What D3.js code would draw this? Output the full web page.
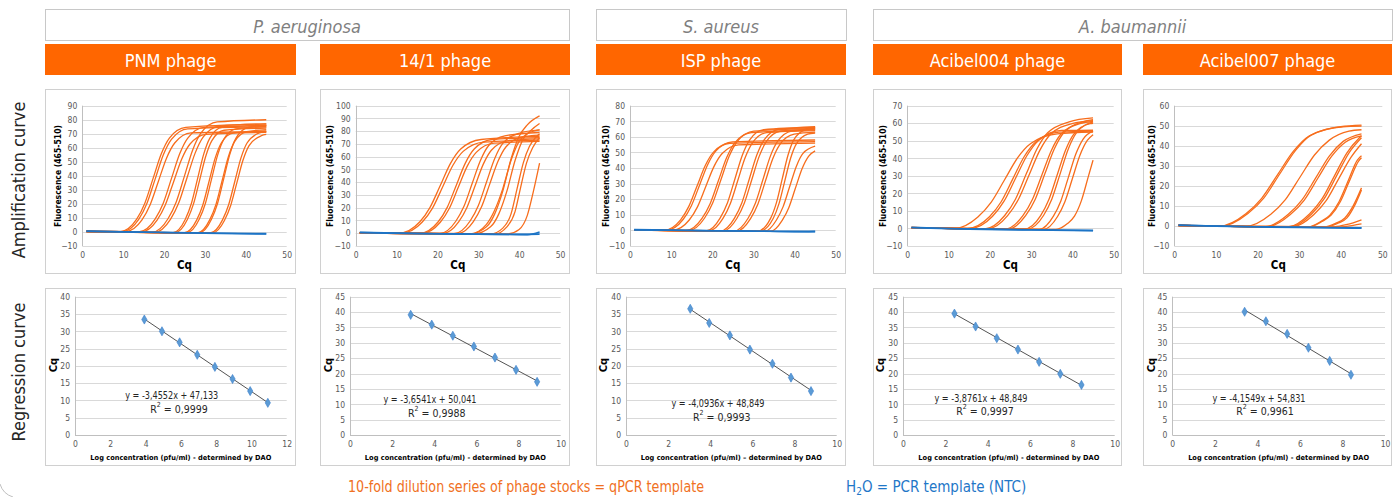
<!DOCTYPE html>
<html><head><meta charset="utf-8">
<script src="https://cdn.jsdelivr.net/npm/d3@7"></script>
<style>
body{margin:0;background:#fff;}
svg{display:block;}
text{font-family:"Liberation Sans Narrow","DejaVu Sans Condensed","Roboto",sans-serif;}
</style></head><body>
<svg id="c" width="1399" height="497"></svg>
<script>
// ---------------- DATA ----------------
const species = ["P. aeruginosa", "S. aureus", "A. baumannii"];
const phages = ["PNM phage", "14/1 phage", "ISP phage", "Acibel004 phage", "Acibel007 phage"];
const rowLabels = ["Amplification curve", "Regression curve"];
const footOrange = "10-fold dilution series of phage stocks = qPCR template";
const ampXTicks = [0, 10, 20, 30, 40, 50];
const ampYTicks = [
  [-10, 0, 10, 20, 30, 40, 50, 60, 70, 80, 90],
  [-10, 0, 10, 20, 30, 40, 50, 60, 70, 80, 90, 100],
  [-10, 0, 10, 20, 30, 40, 50, 60, 70, 80],
  [-10, 0, 10, 20, 30, 40, 50, 60, 70],
  [-10, 0, 10, 20, 30, 40, 50, 60]
];
const ampYTitle = "Fluorescence (465-510)";
const ampXTitle = "Cq";

// amplification curves: [Cq, fluorescence] points
const ampPNM = [
 [[1,0.5],[9.3,0.3],[13.3,9.1],[15.3,20.5],[17.3,38],[19.3,55.5],[21.3,66.9],[25.3,74.5],[45,77]],
 [[1,0.5],[9.8,0.3],[13.8,9],[15.8,20.3],[17.8,37.5],[19.8,54.8],[21.8,66],[25.8,73.5],[45,75]],
 [[1,0.5],[10.6,0.3],[14.6,8.6],[16.6,19.4],[18.6,36],[20.6,52.6],[22.6,63.4],[26.6,70.6],[45,71.5]],
 [[1,0.4],[13.8,0],[17.8,9.1],[19.8,20.5],[21.8,38],[23.8,55.5],[25.8,66.9],[29.8,74.5],[45,76]],
 [[1,0.4],[14.3,0],[18.3,8.5],[20.3,19.2],[22.3,35.5],[24.3,51.8],[26.3,62.5],[30.3,69.6],[45,71]],
 [[1,0.4],[17,-0.3],[21,9.6],[23,21.6],[25,40],[27,58.4],[29,70.4],[33,78.4],[45,80]],
 [[1,0.4],[17.6,-0.3],[21.6,9.2],[23.6,20.8],[25.6,38.5],[27.6,56.2],[29.6,67.8],[33.6,75.5],[45,77]],
 [[1,0.4],[22.2,-0.4],[25.2,9.1],[26.7,20.5],[28.2,38],[29.7,55.5],[31.2,66.9],[34.2,74.5],[45,76]],
 [[1,0.4],[22.7,-0.4],[25.7,8.9],[27.2,20],[28.7,37],[30.2,54],[31.7,65.1],[34.7,72.5],[45,74]],
 [[1,0.3],[25,-0.5],[28,8.6],[29.5,19.4],[31,36],[32.5,52.6],[34,63.4],[37,70.6],[45,72]],
 [[1,0.3],[25.6,-0.5],[28.6,9],[30.1,20.3],[31.6,37.5],[33.1,54.8],[34.6,66],[37.6,73.5],[45,75]],
 [[1,0.3],[28.2,-0.6],[31.2,8.8],[32.7,19.7],[34.2,36.5],[35.7,53.3],[37.2,64.2],[40.2,71.5],[45,73]],
 [[1,0.3],[28.6,-0.6],[31.6,9.1],[33.1,20.5],[34.6,38],[36.1,55.5],[37.6,66.9],[40.6,74.5],[45,76]],
 [[1,0.3],[31.3,-0.7],[34.3,8.6],[35.8,19.4],[37.3,36],[38.8,52.6],[40.3,63.4],[43.3,70.6],[45,71.5]],
 [[1,0.3],[31.8,-0.7],[34.8,8.4],[36.3,18.9],[37.8,35],[39.3,51.1],[40.8,61.6],[43.8,68.6],[45,69.5]]
];
const amp141 = [
 [[1,0.5],[10.7,0.2],[15.7,9],[18.2,20.3],[20.7,37.5],[23.2,54.8],[25.7,66],[30.7,73.5],[45,76]],
 [[1,0.5],[11.3,0.2],[16.3,8.8],[18.8,19.7],[21.3,36.5],[23.8,53.3],[26.3,64.2],[31.3,71.5],[45,73]],
 [[1,0.4],[15.6,-0.2],[20.2,9],[22.4,20.3],[24.6,37.5],[26.8,54.8],[29,66],[33.4,73.5],[45,75]],
 [[1,0.4],[16.1,-0.2],[20.7,8.6],[22.9,19.4],[25.1,36],[27.3,52.6],[29.5,63.4],[33.9,70.6],[45,72]],
 [[1,0.4],[20.5,-0.3],[24.5,9.4],[26.5,21.1],[28.5,39],[30.5,56.9],[32.5,68.6],[36.5,76.4],[45,79]],
 [[1,0.4],[21.2,-0.3],[25.2,8.9],[27.2,20],[29.2,37],[31.2,54],[33.2,65.1],[37.2,72.5],[45,74]],
 [[1,0.3],[24,-0.4],[28,9.6],[30,21.6],[32,40],[34,58.4],[36,70.4],[40,78.4],[45,81]],
 [[1,0.3],[24.8,-0.4],[28.8,9.2],[30.8,20.8],[32.8,38.5],[34.8,56.2],[36.8,67.8],[40.8,75.5],[45,77]],
 [[1,0.3],[28,-0.5],[32,5],[34,15],[36,33],[38,58],[40,76],[42,85],[45,92]],
 [[1,0.3],[29,-0.5],[33,5],[35,15],[37,33],[39,57],[41,74],[43,81],[45,86]],
 [[1,0.3],[28,-0.5],[32,7],[34,18],[36,35],[38,57],[40,72],[42,78],[45,81]],
 [[1,0.3],[33,-0.6],[36,4],[38,15],[39.5,35],[41,55],[42.5,68],[44,75],[45,78]],
 [[1,0.3],[34,-0.6],[37,5],[39,17],[40.3,35],[41.8,55],[43.3,67],[45,75]],
 [[1,0.3],[37,-0.6],[40,3],[42,14],[43.5,33],[45,55]]
];
const ampISP = [
 [[1,0.5],[8.3,0.2],[12.3,6.8],[14.3,15.4],[16.3,28.5],[18.3,41.6],[20.3,50.2],[24.3,55.9],[45,57]],
 [[1,0.5],[8.9,0.2],[12.9,7],[14.9,15.7],[16.9,29],[18.9,42.3],[20.9,51],[24.9,56.8],[45,58]],
 [[1,0.5],[10.4,0.2],[14.4,6.7],[16.4,15.1],[18.4,28],[20.4,40.9],[22.4,49.3],[26.4,54.9],[45,56]],
 [[1,0.4],[13.5,-0.2],[17.5,7.7],[19.5,17.3],[21.5,32],[23.5,46.7],[25.5,56.3],[29.5,62.7],[45,64.5]],
 [[1,0.4],[14.1,-0.2],[18.1,7.8],[20.1,17.6],[22.1,32.5],[24.1,47.5],[26.1,57.2],[30.1,63.7],[45,65.5]],
 [[1,0.4],[18.5,-0.3],[21.9,7.9],[23.7,17.8],[25.5,33],[27.3,48.2],[29.1,58.1],[32.5,64.7],[45,66]],
 [[1,0.4],[19.2,-0.3],[22.6,7.7],[24.4,17.3],[26.2,32],[28,46.7],[29.8,56.3],[33.2,62.7],[45,64]],
 [[1,0.3],[22,-0.4],[25.4,7.9],[27.2,17.8],[29,33],[30.8,48.2],[32.6,58.1],[36,64.7],[45,66.5]],
 [[1,0.3],[22.6,-0.4],[26,7.8],[27.8,17.6],[29.6,32.5],[31.4,47.5],[33.2,57.2],[36.6,63.7],[45,65]],
 [[1,0.3],[25.3,-0.4],[28.7,7.8],[30.5,17.6],[32.3,32.5],[34.1,47.5],[35.9,57.2],[39.3,63.7],[45,65]],
 [[1,0.3],[25.9,-0.4],[29.3,7.6],[31.1,17],[32.9,31.5],[34.7,46],[36.5,55.4],[39.9,61.7],[45,63]],
 [[1,0.3],[31,-0.5],[34.2,7.9],[35.6,17.8],[37,33],[38.4,48.2],[39.8,58.1],[42.6,64.7],[45,66]],
 [[1,0.3],[31.6,-0.5],[34.8,7.6],[36.2,17],[37.6,31.5],[39,46],[40.4,55.4],[43.2,61.7],[45,62.5]],
 [[1,0.3],[32.8,-0.5],[35.6,6.7],[37.2,15.1],[38.8,28],[40.4,40.9],[42,49.3],[45,54]],
 [[1,0.3],[34.2,-0.5],[37,6.5],[38.6,14.6],[40.2,27],[41.8,39.4],[43.4,47.5],[45,51]]
];
const ampA004 = [
 [[1,0.6],[11.5,0.1],[17.1,6.6],[20.3,14.9],[23.5,27.5],[26.7,40.2],[29.9,48.4],[36.3,53.9],[45,55]],
 [[1,0.6],[14.5,0],[19.9,6.7],[22.7,15.1],[25.5,28],[28.3,40.9],[31.1,49.3],[36.7,54.9],[45,55.5]],
 [[1,0.6],[15.2,0],[20.6,6.8],[23.4,15.4],[26.2,28.5],[29,41.6],[31.8,50.2],[37.4,55.9],[45,56]],
 [[1,0.5],[18.8,-0.2],[23.6,7.4],[26.2,16.7],[28.8,31],[31.4,45.3],[34,54.6],[39.2,60.8],[45,63]],
 [[1,0.5],[19.5,-0.2],[24.3,7.3],[26.9,16.5],[29.5,30.5],[32.1,44.5],[34.7,53.7],[39.9,59.8],[45,61.5]],
 [[1,0.4],[23.6,-0.3],[28,7.3],[30.3,16.5],[32.6,30.5],[34.9,44.5],[37.2,53.7],[41.8,59.8],[45,61]],
 [[1,0.4],[24.3,-0.3],[28.7,7.4],[31,16.7],[33.3,31],[35.6,45.3],[37.9,54.6],[42.5,60.8],[45,62]],
 [[1,0.4],[28.3,-0.4],[32.3,7.3],[34.3,16.5],[36.3,30.5],[38.3,44.5],[40.3,53.7],[44.3,59.8],[45,60]],
 [[1,0.4],[29,-0.4],[33,7.4],[35,16.7],[37,31],[39,45.3],[41,54.6],[45,60.8]],
 [[1,0.3],[32,-0.5],[35.4,7],[37.2,15.7],[39,29],[40.8,42.3],[42.6,51],[45,55.5]],
 [[1,0.3],[33,-0.5],[36.4,6.8],[38.2,15.4],[40,28.5],[41.8,41.6],[43.6,50.2],[45,53.5]],
 [[1,0.3],[36,-0.5],[38.8,2.8],[40.5,7],[42.2,16],[43.9,30],[45,39]]
];
const ampA007 = [
 [[1,0.4],[10.8,-0.1],[17.2,6.1],[21,13.8],[24.8,25.5],[28.6,37.2],[32.4,44.9],[40,49.5],[45,50.3]],
 [[1,0.4],[11.3,-0.1],[17.7,6.2],[21.5,13.9],[25.3,25.8],[29.1,37.6],[32.9,45.3],[40.5,49.5],[45,49.8]],
 [[1,0.4],[17.2,-0.2],[23.2,5.8],[26.7,13.1],[30.2,24.3],[33.7,35.4],[37.2,42.7],[42,47.3],[45,48]],
 [[1,0.3],[22,-0.3],[27.4,5.8],[30.7,13],[34,24],[37.3,35],[40.6,42.2],[45,46]],
 [[1,0.3],[22.5,-0.3],[27.9,5.7],[31.2,12.8],[34.5,23.8],[37.8,34.7],[41.1,41.8],[45,45]],
 [[1,0.3],[27.5,-0.4],[32.5,6],[35.5,13.5],[38.5,25],[41.5,36.5],[44.5,44],[45,45]],
 [[1,0.3],[28,-0.4],[33,6],[36,13.5],[39,25],[42,36.5],[45,44]],
 [[1,0.3],[28.5,-0.4],[33.5,5.6],[36.5,12.6],[39.5,23.5],[42.5,34.3],[45,41]],
 [[1,0.2],[32,-0.5],[35.2,2.2],[37.4,5.4],[39.6,12.1],[41.8,22.5],[44,32.9],[45,35]],
 [[1,0.2],[32.3,-0.5],[35.5,2.2],[37.7,5.4],[39.9,12.1],[42.1,22.5],[44.3,32.4],[45,34]],
 [[1,0.2],[36,-0.5],[39,1.5],[41,4],[43,10],[45,19]],
 [[1,0.2],[36.5,-0.5],[39.5,1.5],[41.5,4],[43.3,10],[45,18]],
 [[1,0.2],[38,-0.5],[41,0.5],[43,1.5],[45,3]],
 [[1,0.2],[40,-0.5],[43,0.3],[45,1]]
];
// no-template controls (H2O)
const ntcPNM  = [[[1,0.6],[10,0.2],[20,-0.3],[30,-0.7],[45,-1.2]], [[1,0.4],[15,-0.2],[30,-0.9],[45,-1.5]]];
const ntc141  = [[[1,0.8],[10,0.1],[25,-0.5],[40,-0.9],[45,-0.7]], [[1,0.5],[15,-0.3],[30,-0.8],[42,-1.1],[45,1]]];
const ntcISP  = [[[1,0.5],[10,0.2],[20,-0.2],[30,-0.4],[40,-0.8],[45,-0.6]], [[1,0.3],[15,-0.1],[30,-0.5],[45,-0.8]]];
const ntcA004 = [[[1,0.7],[10,0],[20,-0.4],[30,-0.7],[45,-1.1]], [[1,0.4],[15,-0.4],[30,-0.9],[45,-1.3]]];
const ntcA007 = [[[1,0.3],[10,-0.1],[20,-0.4],[30,-0.6],[45,-0.9]], [[1,0.5],[15,-0.3],[30,-0.8],[45,-1.1]]];

// regression
const regLogPNM  = [3.93, 4.93, 5.93, 6.93, 7.93, 8.93, 9.93, 10.93];
const regCqPNM   = [33.4, 30.0, 26.8, 23.2, 19.7, 16.2, 12.7, 9.3];
const regLog141  = [2.88, 3.88, 4.88, 5.88, 6.88, 7.88, 8.88];
const regCq141   = [39.1, 35.9, 32.3, 28.8, 25.2, 21.2, 17.3];
const regLogISP  = [3.05, 3.95, 4.93, 5.88, 6.95, 7.83, 8.78];
const regCqISP   = [36.5, 32.4, 28.8, 24.7, 20.6, 16.6, 12.7];
const regLogA004 = [2.43, 3.43, 4.43, 5.43, 6.43, 7.43, 8.43];
const regCqA004  = [39.5, 35.3, 31.5, 27.8, 23.8, 19.9, 16.3];
const regLogA007 = [3.4, 4.4, 5.4, 6.4, 7.4, 8.4];
const regCqA007  = [40.1, 37.0, 32.9, 28.4, 24.1, 19.6];
const slopes     = [-3.4552, -3.6541, -4.0936, -3.8761, -4.1549];
const intercepts = [47.133, 50.041, 48.849, 48.849, 54.831];
const r2         = ["0,9999", "0,9988", "0,9993", "0,9997", "0,9961"];
const regXTicks  = [[0,2,4,6,8,10,12],[0,2,4,6,8,10],[0,2,4,6,8,10],[0,2,4,6,8,10],[0,2,4,6,8,10]];
const regYTicks  = [
  [0,5,10,15,20,25,30,35,40],
  [0,5,10,15,20,25,30,35,40,45],
  [0,5,10,15,20,25,30,35,40],
  [0,5,10,15,20,25,30,35,40,45],
  [0,5,10,15,20,25,30,35,40,45]
];
const regXTitles = [
  "Log concentration (pfu/ml) - determined by DAO",
  "Log concentration (pfu/ml) - determined by DAO",
  "Log concentration (pfu/ml) \u2013 determined by DAO",
  "Log concentration (pfu/ml) - determined by DAO",
  "Log concentration (pfu/ml) - determined by DAO"
];
const regYTitle = "Cq";

// ---------------- LAYOUT ----------------
const LAY = {
  colX: [[45,296],[320,570],[596,846],[873,1122],[1143,1392]],
  speciesX: [[45,569],[596,846],[873,1392]],
  speciesY: [9.5,40.5], phageY: [44,75],
  ampBoxY: [89,273], regBoxY: [288,465],
  ampPlotX: [[82.3,286.7],[355.7,560],[630,835.7],[907.3,1113.7],[1174.3,1382.3]],
  ampPlotY: [246,105.7],
  regPlotX: [[75,286.7],[350,560.7],[626,836.7],[903,1114.7],[1172.3,1385]],
  regPlotY: [435,296.7],
  ampTitleX: [58.3,330,606,883,1151.7],
  regTitleX: [53.3,328,603,880.7,1151.7],
  eqPos: [[171.7,395],[430,399],[718,403],[981,397.7],[1259,397.7]],
  r2Pos: [[179,408.5],[436.7,413],[721.7,416.5],[985,411],[1265,411]]
};
const COL = {orange:"#f76d1c", blue:"#1c74c6", head:"#ff6600", grid:"#d9d9d9", axis:"#bfbfbf", tick:"#595959", border:"#d0d0d0"};

// ---------------- DRAW ----------------
const svg = d3.select("#c");
svg.append("rect").attr("width",1399).attr("height",497).attr("fill","#fff");

species.forEach((s,i)=>{
  const [x0,x1] = LAY.speciesX[i];
  svg.append("rect").attr("x",x0+0.5).attr("y",LAY.speciesY[0]).attr("width",x1-x0).attr("height",LAY.speciesY[1]-LAY.speciesY[0])
    .attr("fill","#fff").attr("stroke","#c8c8c8").attr("stroke-width",1);
  svg.append("text").attr("x",(x0+x1)/2).attr("y",(LAY.speciesY[0]+LAY.speciesY[1])/2+1)
    .attr("text-anchor","middle").attr("dominant-baseline","central")
    .attr("font-size",18).attr("font-style","italic").attr("fill","#7f7f7f").text(s);
});
phages.forEach((p,i)=>{
  const [x0,x1] = LAY.colX[i];
  svg.append("rect").attr("x",x0).attr("y",LAY.phageY[0]).attr("width",x1-x0).attr("height",LAY.phageY[1]-LAY.phageY[0]).attr("fill",COL.head);
  svg.append("text").attr("x",(x0+x1)/2).attr("y",(LAY.phageY[0]+LAY.phageY[1])/2+1)
    .attr("text-anchor","middle").attr("dominant-baseline","central")
    .attr("font-size",18).attr("fill","#fff").text(p);
});
[[18,180],[18,372]].forEach((p,i)=>{
  svg.append("text").attr("transform",`translate(${p[0]},${p[1]}) rotate(-90)`)
    .attr("text-anchor","middle").attr("dominant-baseline","central")
    .attr("font-size",18).attr("fill","#262626").text(rowLabels[i]);
});

function styleAxis(g){
  g.select(".domain").remove();
  g.selectAll("text").attr("font-size",8.5).attr("fill",COL.tick)
    .style("font-family","'Liberation Sans Narrow','DejaVu Sans Condensed',sans-serif");
}

const ampSets = [[ampPNM,ntcPNM],[amp141,ntc141],[ampISP,ntcISP],[ampA004,ntcA004],[ampA007,ntcA007]];
ampSets.forEach(([curves,ntc],i)=>{
  const [bx0,bx1] = LAY.colX[i];
  svg.append("rect").attr("x",bx0+0.5).attr("y",LAY.ampBoxY[0]+0.5).attr("width",bx1-bx0-1).attr("height",LAY.ampBoxY[1]-LAY.ampBoxY[0])
    .attr("fill","#fff").attr("stroke",COL.border);
  const yt = ampYTicks[i];
  const x = d3.scaleLinear().domain([0,50]).range(LAY.ampPlotX[i]);
  const y = d3.scaleLinear().domain([yt[0], yt[yt.length-1]]).range(LAY.ampPlotY);
  const g = svg.append("g");
  g.selectAll("line.grid").data(yt).join("line")
    .attr("x1",x(0)).attr("x2",x(50)).attr("y1",d=>Math.round(y(d))+0.5).attr("y2",d=>Math.round(y(d))+0.5)
    .attr("stroke",COL.grid).attr("stroke-width",1);
  g.append("line").attr("x1",Math.round(x(0))+0.5).attr("x2",Math.round(x(0))+0.5)
    .attr("y1",y(yt[0])).attr("y2",y(yt[yt.length-1])).attr("stroke",COL.axis);
  g.append("g").attr("transform",`translate(${x(0)},0)`)
    .call(d3.axisLeft(y).tickValues(yt).tickSize(0).tickPadding(5)).call(styleAxis);
  g.append("g").attr("transform",`translate(0,${y(yt[0])})`)
    .call(d3.axisBottom(x).tickValues(ampXTicks).tickSize(0).tickPadding(6)).call(styleAxis);
  const line = d3.line().x(d=>x(d[0])).y(d=>y(d[1])).curve(d3.curveMonotoneX);
  g.selectAll("path.amp").data(curves).join("path").attr("class","amp")
    .attr("d",line).attr("fill","none").attr("stroke",COL.orange).attr("stroke-width",1.3);
  g.selectAll("path.ntc").data(ntc).join("path").attr("class","ntc")
    .attr("d",line).attr("fill","none").attr("stroke",COL.blue).attr("stroke-width",1.6);
  g.append("text").attr("transform",`translate(${LAY.ampTitleX[i]},176) rotate(-90)`)
    .attr("text-anchor","middle").attr("dominant-baseline","central")
    .attr("font-size",9).attr("font-weight","bold").attr("fill","#000")
    .attr("textLength",102).attr("lengthAdjust","spacingAndGlyphs").text(ampYTitle);
  g.append("text").attr("x",(LAY.ampPlotX[i][0]+LAY.ampPlotX[i][1])/2).attr("y",264.5)
    .attr("text-anchor","middle").attr("dominant-baseline","central")
    .attr("font-size",11.5).attr("font-weight","bold").attr("fill","#000").text(ampXTitle);
});

const regSets = [[regLogPNM,regCqPNM],[regLog141,regCq141],[regLogISP,regCqISP],[regLogA004,regCqA004],[regLogA007,regCqA007]];
const fmt = v => String(v).replace(".",",");
regSets.forEach(([xs,ys],i)=>{
  const [bx0,bx1] = LAY.colX[i];
  svg.append("rect").attr("x",bx0+0.5).attr("y",LAY.regBoxY[0]+0.5).attr("width",bx1-bx0-1).attr("height",LAY.regBoxY[1]-LAY.regBoxY[0])
    .attr("fill","#fff").attr("stroke",COL.border);
  const xt = regXTicks[i], yt = regYTicks[i];
  const x = d3.scaleLinear().domain([xt[0], xt[xt.length-1]]).range(LAY.regPlotX[i]);
  const y = d3.scaleLinear().domain([0, yt[yt.length-1]]).range(LAY.regPlotY);
  const g = svg.append("g");
  g.selectAll("line.grid").data(yt).join("line")
    .attr("x1",x(xt[0])).attr("x2",x(xt[xt.length-1])).attr("y1",d=>Math.round(y(d))+0.5).attr("y2",d=>Math.round(y(d))+0.5)
    .attr("stroke",d=>d===0?COL.axis:COL.grid);
  g.append("line").attr("x1",Math.round(x(0))+0.5).attr("x2",Math.round(x(0))+0.5)
    .attr("y1",y(0)).attr("y2",y(yt[yt.length-1])).attr("stroke",COL.axis);
  g.append("g").attr("transform",`translate(${x(0)},0)`)
    .call(d3.axisLeft(y).tickValues(yt).tickSize(0).tickPadding(5)).call(styleAxis);
  g.append("g").attr("transform",`translate(0,${y(0)})`)
    .call(d3.axisBottom(x).tickValues(xt).tickSize(0).tickPadding(6)).call(styleAxis);
  const xa = d3.min(xs), xb = d3.max(xs);
  g.append("line").attr("x1",x(xa)).attr("y1",y(slopes[i]*xa+intercepts[i]))
    .attr("x2",x(xb)).attr("y2",y(slopes[i]*xb+intercepts[i])).attr("stroke","#404040").attr("stroke-width",0.9);
  const pts = xs.map((v,k)=>[v,ys[k]]);
  g.selectAll("path.pt").data(pts).join("path")
    .attr("transform",d=>`translate(${x(d[0])},${y(d[1])})`)
    .attr("d",d3.symbol(d3.symbolDiamond,24)).attr("fill","#5b9bd5").attr("stroke","#3d7fcc").attr("stroke-width",0.6);
  g.append("text").attr("x",LAY.eqPos[i][0]).attr("y",LAY.eqPos[i][1]).attr("text-anchor","middle").attr("dominant-baseline","central")
    .attr("font-size",10.5).attr("fill","#262626").attr("textLength",93).attr("lengthAdjust","spacingAndGlyphs")
    .text(`y = ${fmt(slopes[i])}x + ${fmt(intercepts[i])}`);
  const r = g.append("text").attr("x",LAY.r2Pos[i][0]).attr("y",LAY.r2Pos[i][1]).attr("text-anchor","middle").attr("dominant-baseline","central")
    .attr("font-size",10.5).attr("fill","#262626");
  r.append("tspan").text("R");
  r.append("tspan").attr("font-size",7).attr("dy",-4).text("2");
  r.append("tspan").attr("dy",4).text(` = ${r2[i]}`);
  g.append("text").attr("transform",`translate(${LAY.regTitleX[i]},365) rotate(-90)`)
    .attr("text-anchor","middle").attr("dominant-baseline","central")
    .attr("font-size",11).attr("font-weight","bold").attr("fill","#000").text(regYTitle);
  g.append("text").attr("x",(LAY.regPlotX[i][0]+LAY.regPlotX[i][1])/2).attr("y",458.3)
    .attr("text-anchor","middle").attr("dominant-baseline","central")
    .attr("font-size",7).attr("font-weight","bold").attr("fill","#000")
    .attr("textLength",181).attr("lengthAdjust","spacingAndGlyphs").text(regXTitles[i]);
});

// footer
svg.append("text").attr("x",526).attr("y",487).attr("text-anchor","middle").attr("dominant-baseline","central")
  .attr("font-size",15).attr("fill","#f07022").attr("textLength",356).attr("lengthAdjust","spacingAndGlyphs").text(footOrange);
const h = svg.append("text").attr("x",846).attr("y",487).attr("dominant-baseline","central")
  .attr("font-size",15).attr("fill","#1f77c8");
h.append("tspan").text("H");
h.append("tspan").attr("font-size",10).attr("dy",4).text("2");
h.append("tspan").attr("dy",-4).text("O = PCR template (NTC)");
svg.append("path").attr("d","M0,484 Q3,494 13,497").attr("fill","none").attr("stroke","#c0c0c0").attr("stroke-width",1);
</script></body></html>
